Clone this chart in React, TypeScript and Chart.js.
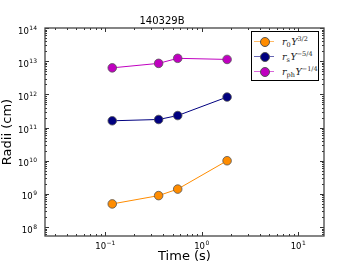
import React, { useEffect, useRef } from "react";
import { Chart, registerables } from "chart.js";
Chart.register(...registerables);

const times = [0.118, 0.357, 0.563, 1.83];
const r0Values = [5.0e8, 8.9e8, 1.4e9, 1.0e10];
const rsValues = [1.6e11, 1.75e11, 2.3e11, 8.3e11];
const rphValues = [6.3e12, 8.6e12, 1.22e13, 1.13e13];
const xTicks = [0.1, 1, 10];
const yTicks = [1e8, 1e9, 1e10, 1e11, 1e12, 1e13, 1e14];
const xExponents = ["−1", "0", "1"];
const yExponents = ["8", "9", "10", "11", "12", "13", "14"];

const colors = { r0: "#ff8c00", rs: "#000080", rph: "#c000c0" };

const baseFont = "8.5px 'DejaVu Sans'";
const expFont = "6px 'DejaVu Sans'";

const tickPlugin = {
  id: "inwardTicks",
  afterDraw(chart: any) {
    const { ctx, chartArea: a } = chart;
    const xs = chart.scales.x;
    const ys = chart.scales.y;
    ctx.save();
    ctx.strokeStyle = "#333";
    ctx.lineWidth = 1;
    for (let d = -3; d <= 3; d++) {
      for (let m = 1; m <= 9; m++) {
        const v = m * Math.pow(10, d);
        if (v < xs.min || v > xs.max) continue;
        const px = Math.round(xs.getPixelForValue(v)) + 0.5;
        const len = m === 1 ? 4 : 2;
        ctx.beginPath();
        ctx.moveTo(px, a.bottom);
        ctx.lineTo(px, a.bottom - len);
        ctx.moveTo(px, a.top);
        ctx.lineTo(px, a.top + len);
        ctx.stroke();
      }
    }
    for (let d = 6; d <= 15; d++) {
      for (let m = 1; m <= 9; m++) {
        const v = m * Math.pow(10, d);
        if (v < ys.min || v > ys.max) continue;
        const py = Math.round(ys.getPixelForValue(v)) + 0.5;
        const len = m === 1 ? 4 : 2;
        ctx.beginPath();
        ctx.moveTo(a.left, py);
        ctx.lineTo(a.left + len, py);
        ctx.moveTo(a.right, py);
        ctx.lineTo(a.right - len, py);
        ctx.stroke();
      }
    }
    ctx.strokeStyle = "#444";
    ctx.lineWidth = 1.3;
    ctx.strokeRect(a.left, a.top, a.right - a.left, a.bottom - a.top);

    ctx.fillStyle = "#000";
    ctx.textBaseline = "alphabetic";
    const drawLabel = (exp: string, cx: number | null, rightX: number | null, baseY: number) => {
      ctx.font = baseFont;
      const w1 = ctx.measureText("10").width;
      ctx.font = expFont;
      const w2 = ctx.measureText(exp).width;
      const total = w1 + w2 + 0.5;
      const left = cx !== null ? cx - total / 2 : (rightX as number) - total;
      ctx.font = baseFont;
      ctx.textAlign = "left";
      ctx.fillText("10", left, baseY);
      ctx.font = expFont;
      ctx.fillText(exp, left + w1 + 0.5, baseY - 4);
    };
    xTicks.forEach((v, i) => {
      const px = xs.getPixelForValue(v);
      drawLabel(xExponents[i], px, null, a.bottom + 12.5);
    });
    yTicks.forEach((v, i) => {
      const py = ys.getPixelForValue(v);
      drawLabel(yExponents[i], null, a.left - 8, py + 5.5);
    });
    ctx.restore();
  },
};

function makeDataset(values: number[], color: string) {
  return {
    data: times.map((t, i) => ({ x: t, y: values[i] })),
    borderColor: color,
    backgroundColor: color,
    borderWidth: 1,
    pointRadius: 4.3,
    pointBorderColor: "#555",
    pointBorderWidth: 0.8,
    pointBackgroundColor: color,
    fill: false,
  };
}

function LegendRow({ color, sub, sup }: any) {
  return (
    <div style={{ display: "flex", alignItems: "center", height: 15 }}>
      <div style={{ position: "relative", width: 20, height: 10, marginLeft: 2 }}>
        <div style={{ position: "absolute", left: 0, right: 0, top: 4.5, height: 1, background: color, opacity: 0.6 }} />
        <div style={{ position: "absolute", left: 5.5, top: 0.5, width: 8, height: 8, borderRadius: "50%", background: color, border: "0.8px solid #555" }} />
      </div>
      <div style={{ marginLeft: 8, fontFamily: "'DejaVu Serif', serif", fontSize: 9.5, color: "#222", whiteSpace: "nowrap", lineHeight: "10px" }}>
        <i>r</i>
        <sub style={{ fontSize: 6.5, verticalAlign: "-2px" }}>{sub}</sub>
        <i style={{ marginLeft: 0.5 }}>Y</i>
        <sup style={{ fontSize: 6.5, verticalAlign: "4px" }}>{sup}</sup>
      </div>
    </div>
  );
}

export default function App() {
  const ref = useRef<HTMLCanvasElement>(null);
  useEffect(() => {
    document.body.style.margin = "0";
    const chart = new Chart(ref.current!, {
      type: "line",
      data: {
        datasets: [
          makeDataset(r0Values, colors.r0),
          makeDataset(rsValues, colors.rs),
          makeDataset(rphValues, colors.rph),
        ],
      },
      options: {
        animation: false,
        responsive: false,
        layout: { padding: { left: 0, right: 36, top: 0, bottom: 0 } },
        plugins: {
          legend: { display: false },
          tooltip: { enabled: false },
          title: {
            display: true,
            text: "140329B",
            color: "#000",
            font: { family: "'DejaVu Sans'", size: 10, weight: "normal", lineHeight: 1.2 },
            padding: { top: 15, bottom: 1 },
          },
        },
        scales: {
          x: {
            type: "logarithmic",
            min: 0.0237,
            max: 18.5,
            grid: { display: false, drawTicks: false },
            border: { display: false },
            afterBuildTicks: (s: any) => {
              s.ticks = xTicks.map((v) => ({ value: v, major: true }));
            },
            afterFit: (s: any) => {
              s.height = 34;
            },
            ticks: {
              autoSkip: false,
              maxRotation: 0,
              padding: 3,
              color: "rgba(0,0,0,0)",
              font: { family: "'DejaVu Sans'", size: 10 },
              callback: () => "",
            },
            title: {
              display: true,
              text: "Time (s)",
              color: "#000",
              font: { family: "'DejaVu Sans'", size: 13, lineHeight: 1.2 },
              padding: { top: 0, bottom: 5.5 },
            },
          },
          y: {
            type: "logarithmic",
            min: 5.4e7,
            max: 1e14,
            grid: { display: false, drawTicks: false },
            border: { display: false },
            afterBuildTicks: (s: any) => {
              s.ticks = yTicks.map((v) => ({ value: v, major: true }));
            },
            afterFit: (s: any) => {
              s.width = 45;
            },
            ticks: {
              autoSkip: false,
              padding: 4,
              color: "rgba(0,0,0,0)",
              font: { family: "'DejaVu Sans'", size: 10 },
              callback: () => "",
            },
            title: {
              display: true,
              text: "Radii (cm)",
              color: "#000",
              font: { family: "'DejaVu Sans'", size: 13, lineHeight: 1.2 },
              padding: { top: 0, bottom: 3.5 },
            },
          },
        },
      } as any,
      plugins: [tickPlugin],
    });
    return () => chart.destroy();
  }, []);

  return (
    <div style={{ position: "fixed", left: 0, top: 0, width: 360, height: 270, background: "#fff" }}>
      <canvas ref={ref} width={360} height={270} style={{ width: 360, height: 270, display: "block" }} />
      <div
        style={{
          position: "absolute",
          left: 251,
          top: 31,
          width: 68,
          height: 50,
          border: "1px solid #000",
          background: "#fff",
          boxSizing: "border-box",
          paddingTop: 2,
        }}
      >
        <LegendRow color={colors.r0} sub="0" sup="3/2" />
        <LegendRow color={colors.rs} sub="s" sup="−5/4" />
        <LegendRow color={colors.rph} sub="ph" sup="−1/4" />
      </div>
    </div>
  );
}
